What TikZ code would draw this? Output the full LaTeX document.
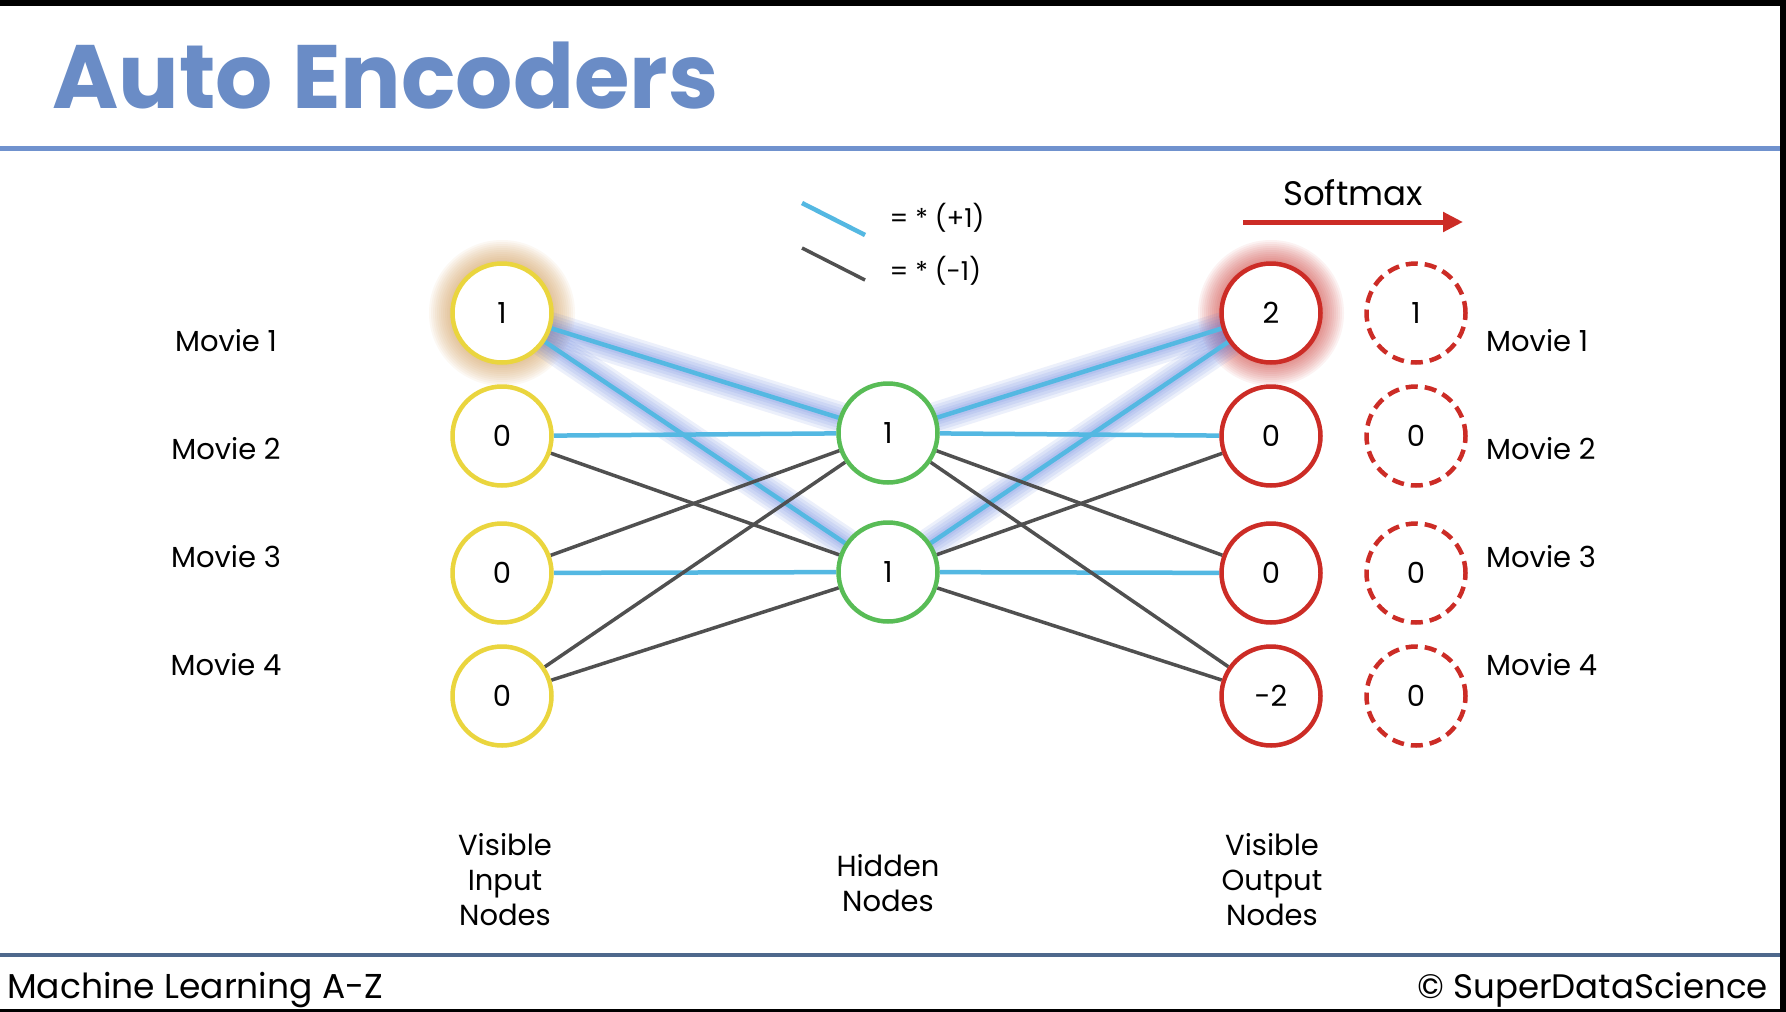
\documentclass[tikz,border=0pt]{standalone}
\usepackage{fontspec}
\setmainfont{Poppins}
\usetikzlibrary{positioning,calc,arrows.meta}
\pgfdeclarelayer{bg}
\pgfsetlayers{bg,main}
\definecolor{inyellow}{RGB}{234,213,62}
\definecolor{hidgreen}{RGB}{88,188,86}
\definecolor{outred}{RGB}{204,44,38}
\definecolor{posblue}{RGB}{84,184,226}
\definecolor{neggray}{RGB}{80,80,80}
\definecolor{glowblue}{RGB}{90,120,220}
\definecolor{glowtan}{RGB}{214,160,92}
\definecolor{titleblue}{RGB}{106,140,198}
\definecolor{ruleblue}{RGB}{112,146,206}
\definecolor{footrule}{RGB}{78,104,140}

\begin{document}
\begin{tikzpicture}[x=1pt,y=-1pt,
	every node/.style={font=\fontsize{29}{35}\selectfont},
	lbl/.style={inner sep=0pt},
	neuron/.style={circle,fill=white,line width=4.5pt,minimum size=99pt,inner sep=0pt},
	input node/.style={neuron,draw=inyellow},
	hidden node/.style={neuron,draw=hidgreen},
	output node/.style={neuron,draw=outred},
	soft node/.style={neuron,draw=outred,dash pattern=on 12pt off 7pt},
	plus/.style={draw=posblue,line width=4.5pt},
	minus/.style={draw=neggray,line width=3.5pt},
	halo/.style={draw=glowblue,line width=#1,opacity=0.11,line cap=round}]

	\useasboundingbox (0,0) rectangle (1786,1012);
	% screen frame
	\fill[black] (0,0) rectangle (1786,6);
	\fill[black] (1780,0) rectangle (1786,1012);
	\fill[black] (0,1009) rectangle (1786,1012);

	% title and rules
	\node[lbl,anchor=base west,text=titleblue,font=\bfseries\fontsize{90}{100}\selectfont] (title) at (52,108) {Auto Encoders};
	\draw[ruleblue,line width=5pt] (0,148) -- (1780,148);
	\draw[footrule,line width=4pt] (0,955) -- (1780,955);
	\node[lbl,anchor=base west,font=\fontsize{34.5}{36}\selectfont] (course) at (7,998) {Machine Learning A-Z};
	\node[lbl,anchor=base east,font=\fontsize{34}{36}\selectfont] (brand) at (1768,998) {© SuperDataScience};

	% layers
	\foreach \v/\y [count=\i] in {1/313,0/436,0/573,0/696}
		\node[input node] (I\i) at (502,\y) {\v};
	\foreach \v/\y [count=\i] in {1/433,1/572}
		\node[hidden node] (H\i) at (888,\y) {\v};
	\foreach \v/\y [count=\i] in {2/313,0/436,0/573,-2/696}
		\node[output node] (O\i) at (1271,\y) {\v};
	\foreach \v/\y [count=\i] in {1/313,0/436,0/573,0/696}
		\node[soft node] (S\i) at (1416,\y) {\v};

	% movie labels
	\foreach \y [count=\i] in {341,449,557,665} {
		\node (ML\i) at (226,\y) {Movie \i};
		\node[anchor=west,lbl] (MR\i) at (1486,\y) {Movie \i};
	}

	% bottom labels
	\node[align=center] (vin) at (505,880) {Visible\\Input\\Nodes};
	\node[align=center] (hid) at (888,883) {Hidden\\Nodes};
	\node[align=center] (vout) at (1272,880) {Visible\\Output\\Nodes};

	% legend
	\coordinate (lp1) at (802,203);
	\coordinate (lp2) at (865,235);
	\coordinate (lm1) at (802,248);
	\coordinate (lm2) at (865,280);
	\draw[plus] (lp1) -- (lp2);
	\draw[minus] (lm1) -- (lm2);
	\node[anchor=west,font=\fontsize{26}{30}\selectfont] (lpt) at (886,218) {= * (+1)};
	\node[anchor=west,font=\fontsize{26}{30}\selectfont] (lmt) at (886,271) {= * (-1)};

	% softmax arrow
	\coordinate (sa) at (1243,222);
	\coordinate (sb) at (1463,222);
	\draw[outred,line width=5pt,-{Triangle[length=20pt,width=19pt]}] (sa) -- (sb);
	\node[lbl,anchor=base,font=\fontsize{34}{36}\selectfont] (smx) at (1353,205) {Softmax};

	\begin{pgfonlayer}{bg}
		\fill[white] (0,6) rectangle (1780,1009);
		% glows
		\foreach \r in {53,55,...,73} {
			\fill[glowtan,opacity=0.07] (I1) circle (\r pt);
			\fill[outred,opacity=0.06] (O1) circle (\r pt);
		}
		\foreach \a/\b in {I1/H1,I1/H2,H1/O1,H2/O1}
			\foreach \w in {32,26,20,14,9}
				\draw[halo=\w pt] (\a) -- (\b);
		% connections
		\foreach \a/\b in {I1/H1,I1/H2,I2/H1,I3/H2,H1/O1,H2/O1,H1/O2,H2/O3}
			\draw[plus] (\a) -- (\b);
		\foreach \a/\b in {I2/H2,I3/H1,I4/H1,I4/H2,H1/O3,H1/O4,H2/O2,H2/O4}
			\draw[minus] (\a) -- (\b);
	\end{pgfonlayer}

\end{tikzpicture}
\end{document}
